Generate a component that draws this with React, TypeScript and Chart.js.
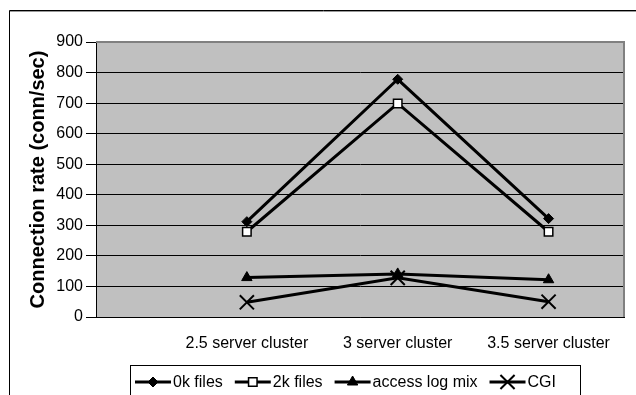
import React, { useEffect, useRef } from "react";
import { Chart, registerables } from "chart.js";
import { drawPoint } from "chart.js/helpers";

Chart.register(...registerables);

const categories = ["2.5 server cluster", "3 server cluster", "3.5 server cluster"];
const seriesNames = ["0k files", "2k files", "access log mix", "CGI"];
const ok_files = [312, 778, 322];
const twok_files = [279, 699, 279];
const access_log_mix = [129, 141, 122];
const cgi = [48, 128, 50];
const yTicks = [0, 100, 200, 300, 400, 500, 600, 700, 800, 900];

const FONT = '"Liberation Sans", Arial, sans-serif';

const styles = [
  { pointStyle: "rectRot", pointRadius: 5, pointBackgroundColor: "#000", pointBorderColor: "#000", pointBorderWidth: 1 },
  { pointStyle: "rect", pointRadius: 6, pointBackgroundColor: "#fff", pointBorderColor: "#000", pointBorderWidth: 1.5 },
  { pointStyle: "triangle", pointRadius: 6, pointBackgroundColor: "#000", pointBorderColor: "#000", pointBorderWidth: 1 },
  { pointStyle: "crossRot", pointRadius: 10, pointBackgroundColor: "#000", pointBorderColor: "#000", pointBorderWidth: 2 },
];

const decorPlugin = {
  id: "decor",
  beforeDraw(chart: any) {
    const { ctx, chartArea: a } = chart;
    ctx.save();
    ctx.fillStyle = "#fff";
    ctx.fillRect(0, 0, chart.width, chart.height);
    ctx.fillStyle = "#c0c0c0";
    ctx.fillRect(a.left, a.top, a.right - a.left, a.bottom - a.top);
    ctx.restore();
  },
  afterDraw(chart: any) {
    const { ctx, chartArea: a } = chart;
    ctx.save();
    ctx.strokeStyle = "#808080";
    ctx.lineWidth = 2;
    ctx.beginPath();
    ctx.moveTo(a.left, a.top);
    ctx.lineTo(a.right, a.top);
    ctx.lineTo(a.right, a.bottom);
    ctx.stroke();
    ctx.strokeStyle = "#000";
    ctx.lineWidth = 1;
    ctx.beginPath();
    ctx.moveTo(9.5, 420);
    ctx.lineTo(9.5, 10.5);
    ctx.lineTo(700, 10.5);
    ctx.stroke();
    ctx.strokeStyle = "#999";
    ctx.beginPath();
    ctx.moveTo(10, 11.5);
    ctx.lineTo(700, 11.5);
    ctx.stroke();
    ctx.strokeStyle = "#000";
    ctx.lineWidth = 1;
    ctx.strokeRect(130.5, 365.5, 450, 60);
    ctx.font = "16px " + FONT;
    ctx.textBaseline = "middle";
    ctx.textAlign = "left";
    const cy = 382;
    let x = 135;
    chart.data.datasets.forEach((ds: any, i: number) => {
      ctx.strokeStyle = "#000";
      ctx.lineWidth = 3;
      ctx.beginPath();
      ctx.moveTo(x, cy);
      ctx.lineTo(x + 36, cy);
      ctx.stroke();
      const s = styles[i];
      ctx.fillStyle = s.pointBackgroundColor;
      ctx.strokeStyle = s.pointBorderColor;
      ctx.lineWidth = s.pointBorderWidth;
      drawPoint(ctx, { pointStyle: s.pointStyle, radius: s.pointRadius, rotation: 0, borderWidth: s.pointBorderWidth }, x + 18, cy);
      ctx.fillStyle = "#000";
      ctx.fillText(ds.label, x + 38, cy + 1);
      x += 38 + ctx.measureText(ds.label).width + 12;
    });
    ctx.restore();
  },
};

export default function App() {
  const ref = useRef<HTMLCanvasElement>(null);
  useEffect(() => {
    document.body.style.margin = "0";
    const values = [ok_files, twok_files, access_log_mix, cgi];
    const chart = new Chart(ref.current!, {
      type: "line",
      data: {
        datasets: values.map((vals, i) => ({
          label: seriesNames[i],
          data: vals.map((v, j) => ({ x: j + 1, y: v })),
          borderColor: "#000",
          borderWidth: 3,
          tension: 0,
          ...styles[i],
        })),
      },
      plugins: [decorPlugin],
      options: {
        animation: false,
        responsive: false,
        layout: { padding: { left: 0, top: 42, right: 9, bottom: 0 } },
        plugins: { legend: { display: false }, tooltip: { enabled: false } },
        scales: {
          x: {
            type: "linear",
            min: 0,
            max: 3.5,
            afterBuildTicks: (s: any) => {
              s.ticks = categories.map((_, i) => ({ value: i + 1 }));
            },
            afterFit: (s: any) => {
              s.height = 78;
            },
            ticks: {
              callback: (v: any) => categories[Math.round(v) - 1] ?? "",
              font: { size: 16, family: FONT },
              color: "#000",
              padding: 9,
              maxRotation: 0,
              autoSkip: false,
            },
            grid: { display: false },
            border: { display: true, color: "#000", width: 1 },
          },
          y: {
            min: 0,
            max: 900,
            afterBuildTicks: (s: any) => {
              s.ticks = yTicks.map((v) => ({ value: v }));
            },
            afterFit: (s: any) => {
              s.width = 96;
            },
            ticks: {
              font: { size: 16, family: FONT },
              color: "#000",
              padding: 3,
            },
            grid: {
              color: (c: any) => (c.tick && c.tick.value === 900 ? "#808080" : "#000"),
              lineWidth: 1,
              tickLength: 10,
              tickColor: "#000",
            },
            border: { display: true, color: "#000", width: 1 },
            title: {
              display: true,
              text: "Connection rate (conn/sec)",
              font: { size: 20, weight: "bold", family: FONT },
              color: "#000",
              padding: { top: 26, bottom: 0 },
            },
          },
        },
      },
    } as any);
    return () => chart.destroy();
  }, []);
  return <canvas ref={ref} width={636} height={395} style={{ display: "block" }} />;
}
